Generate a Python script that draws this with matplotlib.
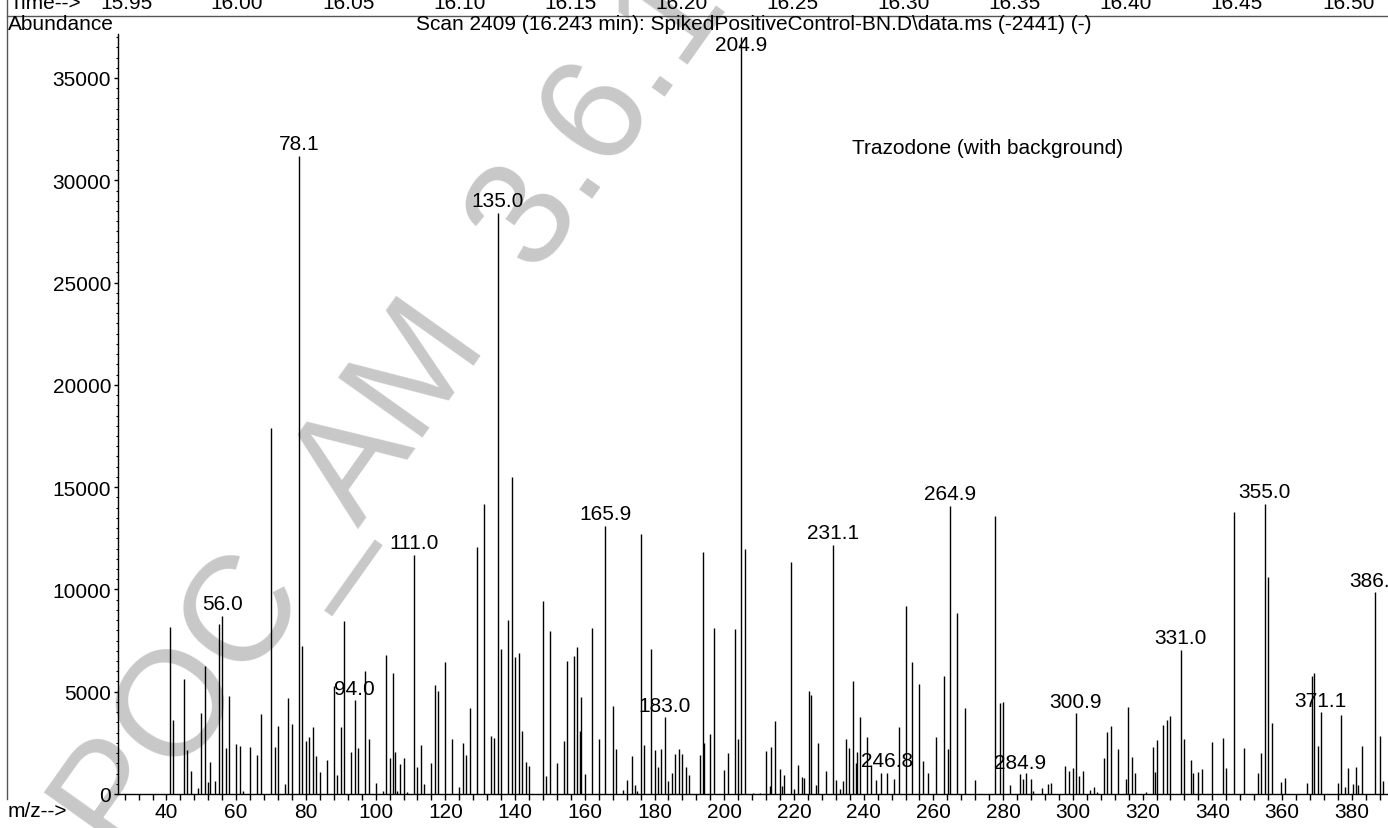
import matplotlib
matplotlib.use("Agg")
import matplotlib.pyplot as plt
from matplotlib.ticker import MultipleLocator

plt.rcParams['font.family'] = ['Liberation Sans', 'DejaVu Sans']
FS = 15

# spectrum: m/z and abundance
mz = [41, 42, 45, 46, 47, 49, 50, 51, 51.8, 52.4, 54, 55, 56, 57, 58, 60, 61, 62,
      64, 66, 67, 70, 71, 72, 74, 75, 76, 78.1, 79, 80, 81, 82, 83, 84, 86, 88,
      89, 90, 91, 93, 94, 95, 97, 98, 100, 102, 103, 104, 105, 105.6, 106, 107,
      108, 109, 111, 112, 113, 114, 116, 117, 118, 120, 122, 124, 125, 126, 127,
      129, 131, 133, 134, 135, 136, 138, 139, 140, 141, 142, 143, 144, 148, 149,
      150, 152, 154, 155, 157, 157.8, 158.5, 159, 160, 162, 164, 165.9, 168, 169,
      171, 172, 173.6, 174.3, 175, 176, 177, 179, 180, 181, 182, 183, 184, 185,
      186, 187, 188, 189, 190, 193, 193.8, 194.1, 196, 197, 200, 201, 203, 204,
      204.9, 206, 208.2, 210.2, 212, 213, 213.4, 214.7, 216, 216.7, 217.2, 219.2,
      220, 221.2, 222.2, 223, 224.4, 225, 226.3, 227, 229.3, 231.1, 232.2, 233.2,
      234, 235, 235.7, 237, 237.7, 238.2, 239, 241, 242, 243.5, 245.1, 246.8,
      248.8, 250, 252, 253.8, 255.8, 257, 258.5, 260.8, 263, 264.1, 264.9, 266.9,
      269, 272, 277.8, 279, 279.9, 282, 284.9, 285.7, 286.7, 288, 288.6, 291.2,
      293, 293.8, 297.7, 299, 300, 300.9, 301.8, 302.8, 304.8, 306, 307, 309,
      309.8, 310.8, 313, 315.2, 315.8, 317, 317.9, 320.9, 322.9, 323.7, 324, 326,
      327, 328, 331, 332, 333.8, 334.4, 336, 337, 340, 343.1, 344, 346.1, 349.1,
      353, 354.1, 355, 356, 357, 359.8, 360.9, 367.1, 368.6, 369.1, 370.2, 371.1,
      376, 377, 378, 378.8, 380.5, 381.2, 381.8, 383, 386.8, 388, 389]
abundance = [8150, 3640, 5620, 2150, 1130, 290, 3950, 6240, 600, 1580, 620, 8310,
             8690, 2230, 4780, 2430, 2350, 130, 2280, 1890, 3910, 17900, 2280, 3310,
             490, 4680, 3420, 31200, 7220, 2590, 2770, 3260, 1840, 1060, 1660, 5260,
             945, 3290, 8460, 2070, 4580, 2230, 6010, 2690, 540, 165, 6810, 1780,
             5900, 2040, 165, 1470, 1780, 80, 11670, 1300, 2410, 490, 1520, 5310,
             5040, 6440, 2690, 340, 2510, 1910, 4220, 12060, 14180, 2820, 2720,
             28400, 7070, 8490, 15500, 6680, 6880, 3080, 1550, 1350, 9450, 900,
             7970, 1520, 2580, 6500, 6760, 7170, 3080, 4730, 1000, 8100, 2670,
             13090, 4290, 2200, 210, 685, 1860, 440, 130, 12700, 2410, 7090, 2170,
             1340, 2200, 3750, 650, 1030, 1960, 2180, 1960, 1300, 945, 1910, 11830,
             2480, 2920, 8120, 1160, 2000, 8070, 2710, 37000, 12000, 50, 50, 2120,
             410, 2310, 3590, 1220, 410, 930, 11330, 245, 1420, 850, 780, 5040,
             4840, 460, 2480, 1140, 12190, 670, 245, 640, 2670, 2270, 5530, 1520,
             2040, 3750, 2770, 1400, 700, 1010, 1030, 730, 3260, 9210, 6470, 5360,
             1630, 1010, 2800, 5770, 2220, 14080, 8830, 4190, 685, 13580, 4450,
             4500, 420, 960, 730, 1030, 720, 165, 280, 505, 540, 1370, 1110, 1290,
             3940, 900, 1140, 210, 330, 80, 1760, 3020, 3310, 2200, 730, 4270, 1810,
             1010, 80, 2300, 1060, 2660, 3360, 3600, 3800, 7030, 2690, 1660, 1010,
             1060, 1240, 2530, 2740, 1290, 13770, 2250, 1010, 1990, 14200, 10600,
             3490, 570, 800, 540, 5750, 5900, 2330, 3990, 540, 3850, 330, 1250, 490,
             1320, 440, 2350, 9860, 2840, 640]

# labelled peaks
peak_labels = ['56.0', '78.1', '94.0', '111.0', '135.0', '165.9', '183.0', '204.9',
               '231.1', '246.8', '264.9', '284.9', '300.9', '331.0', '355.0',
               '371.1', '386.8']

time_ticks = ['15.95', '16.00', '16.05', '16.10', '16.15', '16.20', '16.25',
              '16.30', '16.35', '16.40', '16.45', '16.50']

W, H = 1388, 829
fig = plt.figure(figsize=(W / 100, H / 100), dpi=100)


def fx(px):
    return px / W


def fy(py):
    return 1 - py / H


ax = fig.add_axes([fx(118), fy(795), 1 - fx(118), (795 - 35) / H])
ax.patch.set_alpha(0)
ax.vlines(mz, 0, abundance, color='black', lw=1.0)

ymax = 37150
ax.set_xlim(26.1, 390.4)
ax.set_ylim(0, ymax)
for s in ['top', 'right']:
    ax.spines[s].set_visible(False)
for s in ['left', 'bottom']:
    ax.spines[s].set_linewidth(1.0)

ax.xaxis.set_major_locator(MultipleLocator(20))
ax.xaxis.set_minor_locator(MultipleLocator(4))
ax.yaxis.set_major_locator(MultipleLocator(5000))
ax.yaxis.set_minor_locator(MultipleLocator(500))
ax.tick_params(axis='x', which='both', direction='out', length=4, width=1, pad=2,
               labelsize=FS)
ax.tick_params(axis='y', which='major', direction='out', length=3, width=1, pad=2,
               labelsize=FS)
ax.tick_params(axis='y', which='minor', direction='out', length=1.5, width=0.8)
ax.set_xticks([t for t in range(40, 400, 20) if t <= 380])

for lab in peak_labels:
    v = float(lab)
    i = min(range(len(mz)), key=lambda k: abs(mz[k] - v))
    if abundance[i] > ymax * 0.95:
        ax.annotate(lab, (mz[i], ymax), xytext=(0, -1), textcoords='offset points',
                    ha='center', va='top', fontsize=FS, annotation_clip=False)
    else:
        ax.annotate(lab, (mz[i], abundance[i]), xytext=(0, 2),
                    textcoords='offset points', ha='center', va='bottom',
                    fontsize=FS, annotation_clip=False)

# header (time axis of the chromatogram is cut off at the top)
fig.text(fx(10), fy(9), 'Time-->', ha='left', va='baseline', fontsize=FS)
for k, t in enumerate(time_ticks):
    fig.text(fx(126 + 111.1 * k), fy(9), t, ha='center', va='baseline',
             fontsize=FS)
fig.add_artist(plt.Line2D([fx(7), 1], [fy(17), fy(17)], color='#555555', lw=1))
fig.add_artist(plt.Line2D([fx(7), fx(7)], [fy(0), fy(800)], color='#555555', lw=1))
fig.text(fx(8), fy(25), 'Abundance', ha='left', va='center', fontsize=FS)
fig.text(fx(754), fy(25),
         r'Scan 2409 (16.243 min): SpikedPositiveControl-BN.D\data.ms (-2441) (-)',
         ha='center', va='center', fontsize=FS)
fig.text(fx(852), fy(148), 'Trazodone (with background)', ha='left', va='center',
         fontsize=FS)
fig.text(fx(8), fy(812), 'm/z-->', ha='left', va='center', fontsize=FS)

# watermark
fig.text(fx(122), fy(862), 'POC_AM  3.6.1', rotation=54.6,
         rotation_mode='anchor', ha='left', va='baseline', fontsize=108,
         color='#c8c8c8', zorder=-1)

fig.savefig('out.png', dpi=100)
